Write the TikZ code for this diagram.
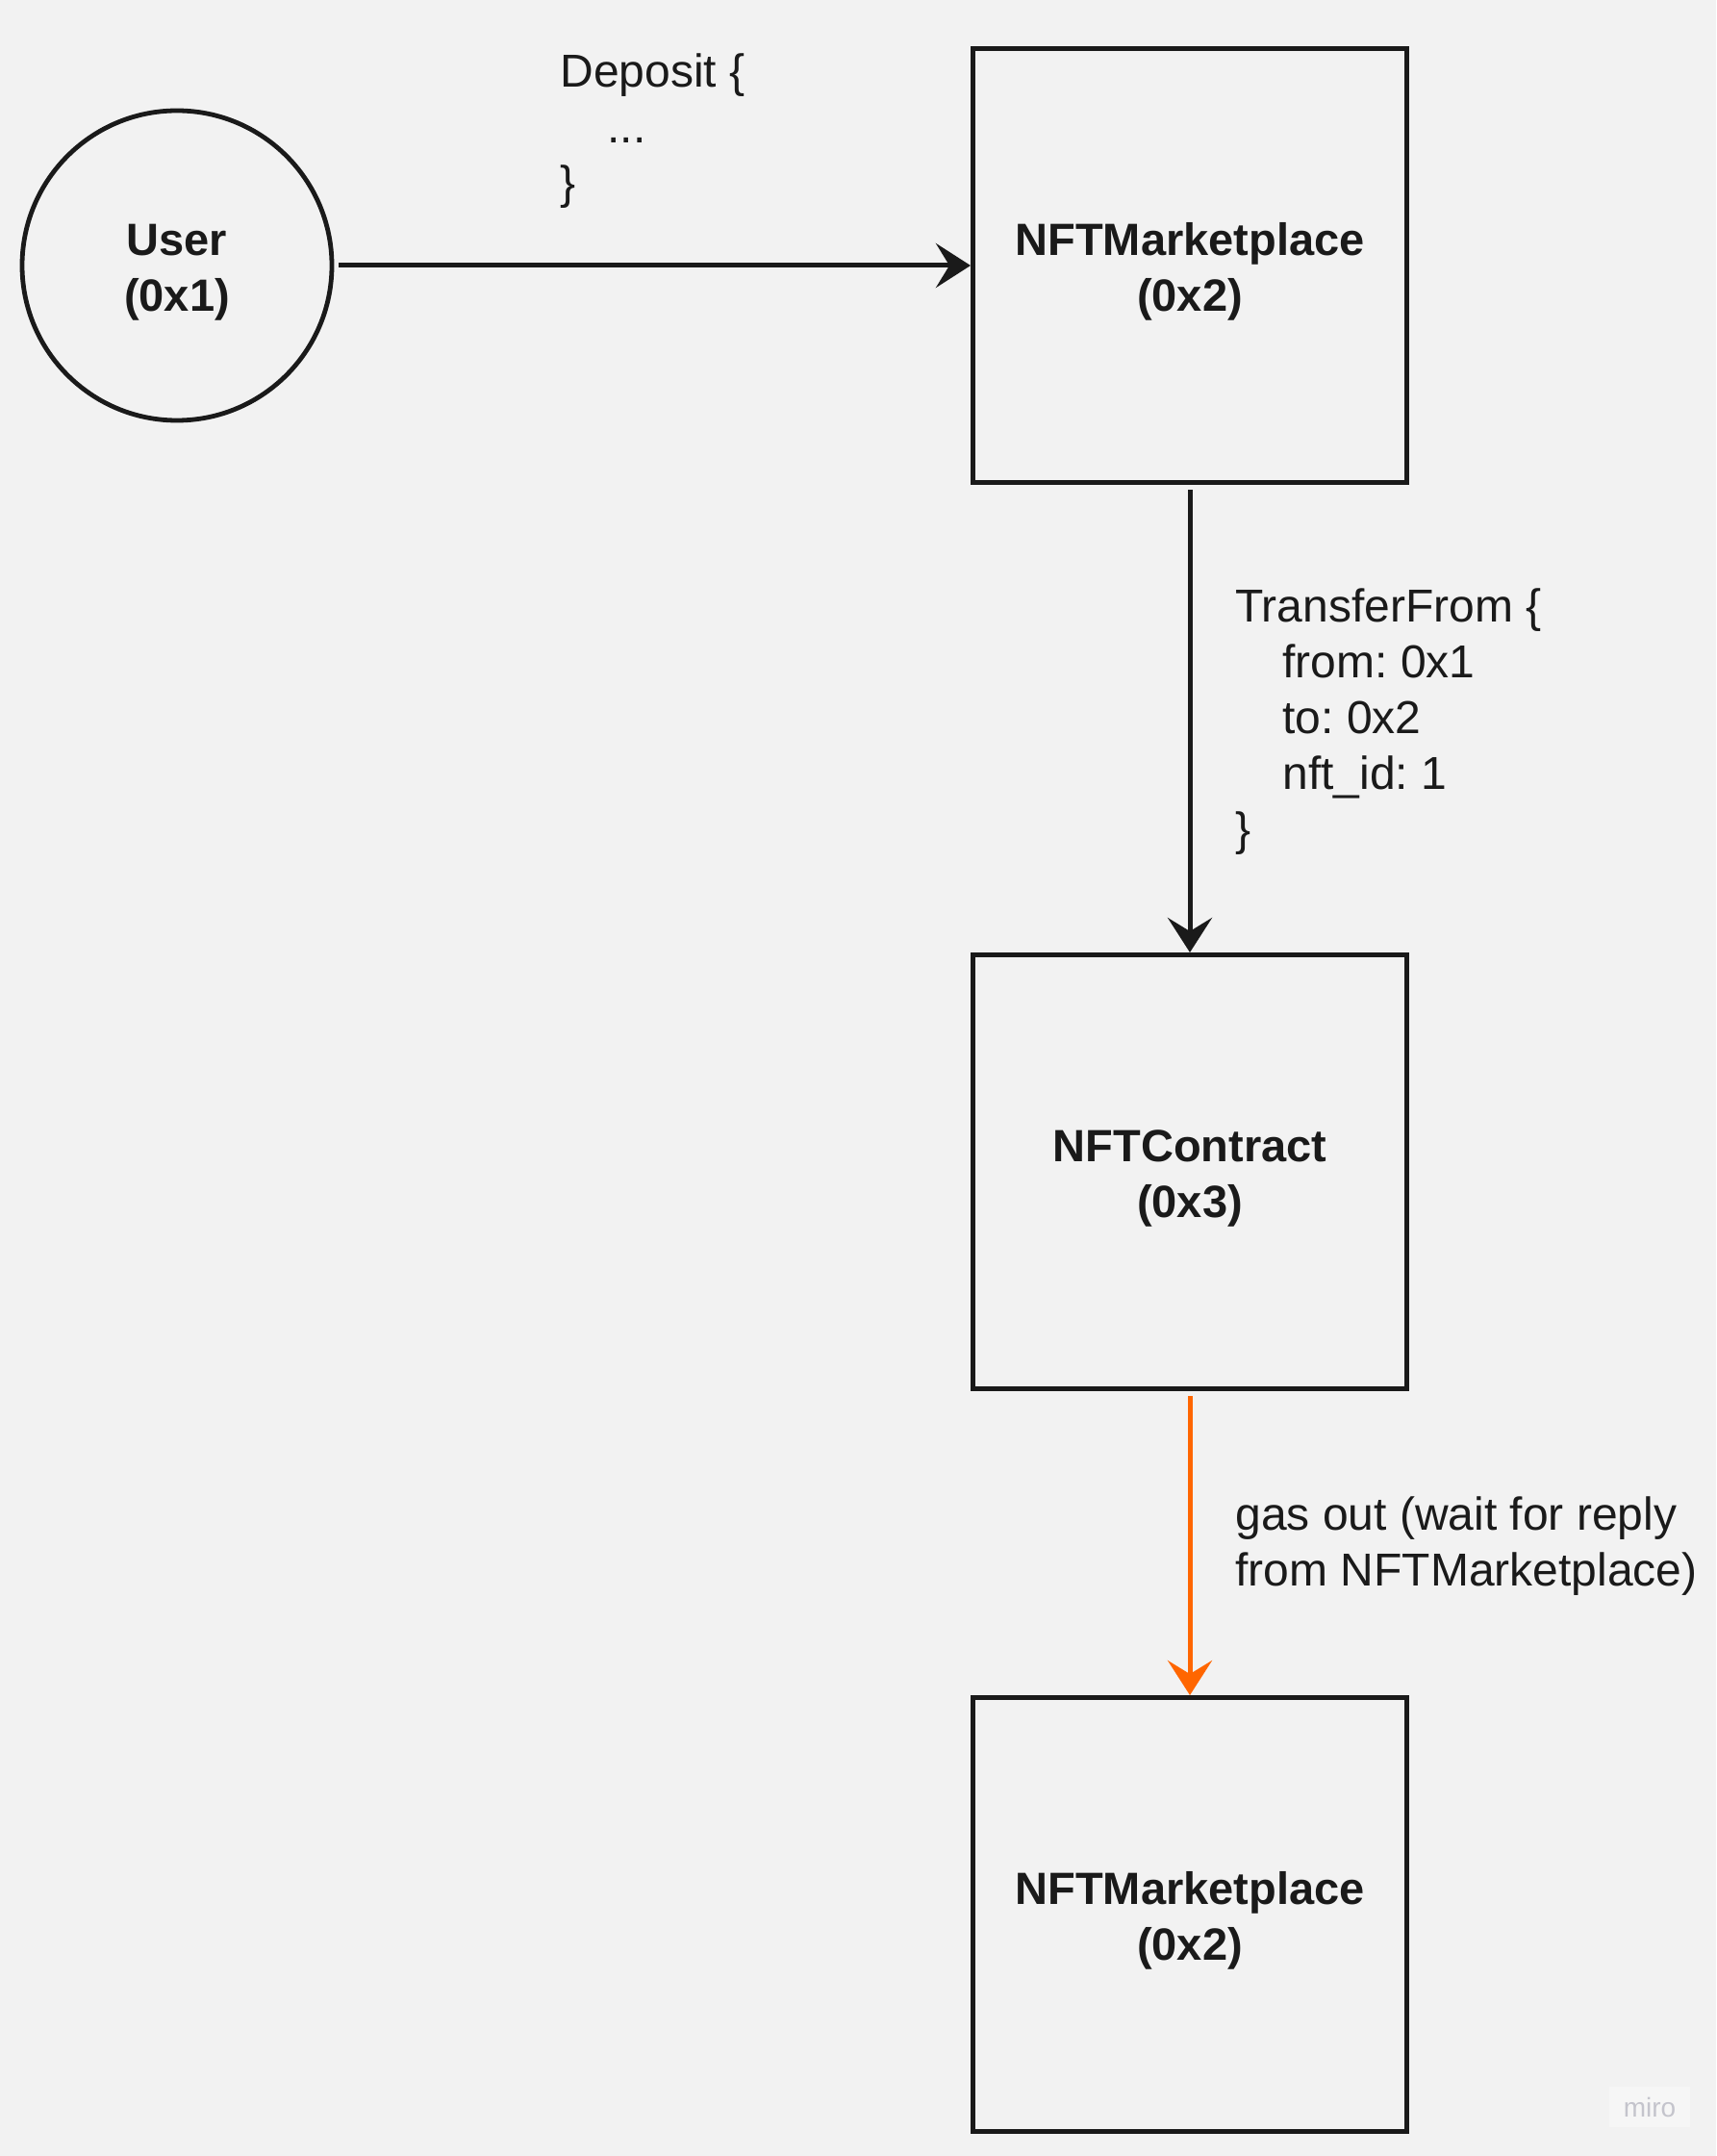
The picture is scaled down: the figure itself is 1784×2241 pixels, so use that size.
\documentclass[tikz,border=0pt]{standalone}
\usepackage{fontspec}
\setmainfont{Liberation Sans}
\usetikzlibrary{arrows.meta}
\definecolor{bg}{HTML}{F2F2F2}
\definecolor{ink}{HTML}{1A1A1A}
\definecolor{gasorange}{HTML}{FF6600}
\definecolor{wm}{HTML}{C4C4CC}
\definecolor{wmbg}{HTML}{F6F6F6}
\frenchspacing
\begin{document}
\begin{tikzpicture}[x=0.5pt,y=-0.5pt,
  every node/.style={text=ink},
  entity/.style={draw=ink, font=\fontsize{23.5}{29}\selectfont\bfseries, align=center, inner sep=0pt},
  boxnode/.style={entity, rectangle, line width=2.5pt, minimum width=225.5pt, minimum height=225.5pt},
  circnode/.style={entity, circle, line width=2.4pt, minimum size=161pt},
  msg/.style={font=\fontsize{24}{29}\selectfont\frenchspacing, align=left, anchor=base west, inner sep=0pt},
  flow/.style={draw=ink, line width=2.5pt, shorten <=2.5pt, -{Stealth[length=18pt,width=23pt,inset=7pt]}},
]
\fill[bg] (0,0) rectangle (1784,2241);
\useasboundingbox (0,0) rectangle (1784,2241);

\node[circnode] (user) at (184,276) {\rule{0pt}{23pt}User\\(0x1)};
\node[boxnode] (mk1) at (1237,276) {\rule{0pt}{23pt}NFTMarketplace\\(0x2)};
\node[boxnode] (nc) at (1237,1218) {\rule{0pt}{23pt}NFTContract\\(0x3)};
\node[boxnode] (mk2) at (1237,1990) {\rule{0pt}{23pt}NFTMarketplace\\(0x2)};

\draw[flow] (user) -- (mk1);
\draw[flow] (mk1) -- (nc);
\draw[flow, draw=gasorange] (nc) -- (mk2);

% anchor base = baseline of the last line
\node[msg] (dep) at (582,207) {Deposit \{\\\hspace*{24.5pt}...\\\}};
\node[msg] (tf) at (1284,878) {TransferFrom \{\\\hspace*{24.5pt}from: 0x1\\\hspace*{24.5pt}to: 0x2\\\hspace*{24.5pt}nft\_id: 1\\\}};
\node[msg] (gas) at (1284,1648) {gas out (wait for reply\\from NFTMarketplace)};

\node[fill=wmbg, text=wm, font=\fontsize{14}{14}\selectfont, minimum width=42pt, minimum height=21pt, inner sep=0pt] (miro) at (1715,2190) {miro};
\end{tikzpicture}
\end{document}
